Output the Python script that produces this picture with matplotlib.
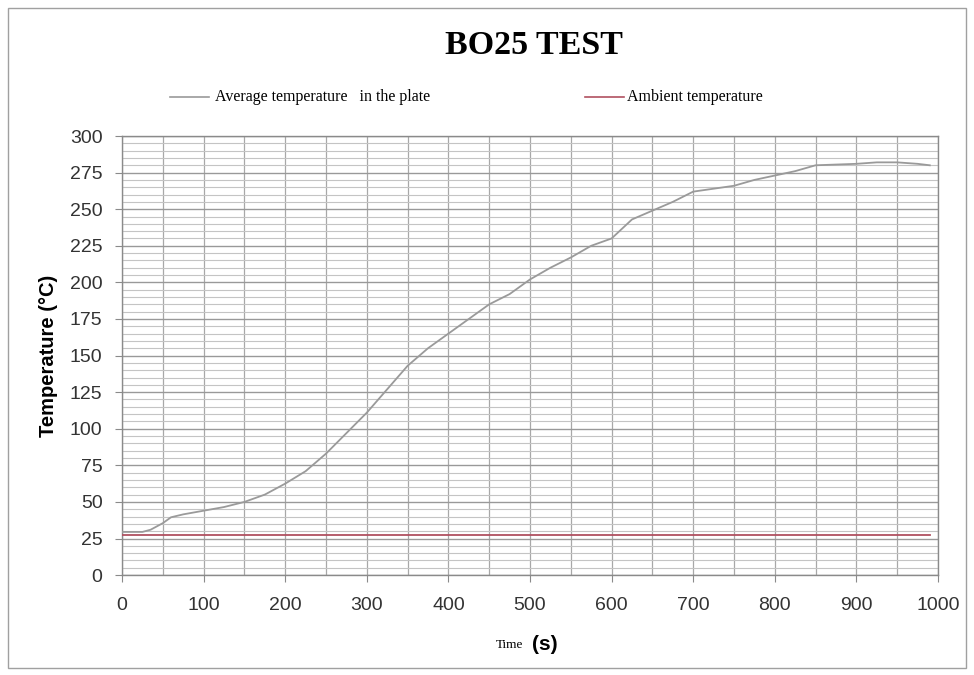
import matplotlib
matplotlib.use("Agg")
import matplotlib.pyplot as plt
from matplotlib.lines import Line2D
from matplotlib.ticker import MultipleLocator

time_s = [0, 15, 25, 35, 50, 60, 75, 100, 125, 150, 175, 200, 225, 250, 275, 300,
          325, 350, 375, 400, 425, 450, 475, 500, 525, 550, 575, 600, 625, 650,
          675, 700, 725, 750, 775, 800, 825, 850, 875, 900, 925, 950, 975, 990]
avg_temp = [29.5, 29.5, 29.5, 31, 35.5, 39.5, 41.5, 44, 46.5, 50, 55, 62.5, 71, 83, 97, 111,
            127, 143, 155, 165, 175, 185, 192, 202, 210, 217, 225, 230, 243, 249,
            255, 262, 264, 266, 270, 273, 276, 280, 280.5, 281, 282, 282, 281, 280]
amb_time = [0, 990]
amb_temp = [27.3, 27.3]

avg_color = "#9a9a9a"
amb_color = "#b05060"

fig = plt.figure(figsize=(9.74, 6.75), dpi=100)
ax = fig.add_axes([0.1253, 0.148, 0.963 - 0.1253, 0.7985 - 0.148])

ax.plot(time_s, avg_temp, color=avg_color, lw=1.3, zorder=3)
ax.plot(amb_time, amb_temp, color=amb_color, lw=1.3, zorder=3)

ax.set_xlim(0, 1000)
ax.set_ylim(0, 300)
ax.xaxis.set_major_locator(MultipleLocator(100))
ax.xaxis.set_minor_locator(MultipleLocator(50))
ax.yaxis.set_major_locator(MultipleLocator(25))
ax.yaxis.set_minor_locator(MultipleLocator(5))

ax.grid(which="major", axis="y", color="#999999", lw=1.0)
ax.grid(which="minor", axis="y", color="#c4c4c4", lw=0.8)
ax.grid(which="both", axis="x", color="#a8a8a8", lw=0.9)
ax.set_axisbelow(True)

for s in ax.spines.values():
    s.set_color("#8a8a8a")
    s.set_linewidth(1.0)

ax.tick_params(axis="both", which="major", direction="out", length=5, color="#8a8a8a",
               labelsize=14, labelcolor="#333333")
ax.tick_params(axis="y", which="major", pad=9)
ax.tick_params(axis="x", which="major", pad=11)
ax.tick_params(axis="both", which="minor", length=0)
for lab in ax.get_xticklabels() + ax.get_yticklabels():
    lab.set_fontfamily("Liberation Sans")

ax.set_ylabel("Temperature (°C)", fontfamily="Liberation Sans", fontweight="bold",
              fontsize=14.5)
ax.yaxis.set_label_coords(-0.078, 0.5)

fig.text(0.537, 0.045, "Time", fontfamily="Liberation Serif", fontsize=9.5,
         ha="right", va="center")
fig.text(0.546, 0.045, "(s)", fontfamily="Liberation Sans", fontweight="bold",
         fontsize=15, ha="left", va="center")

fig.text(0.548, 0.933, "BO25 TEST", fontfamily="Liberation Serif", fontweight="bold",
         fontsize=24.5, ha="center", va="center")

# legend
fig.add_artist(Line2D([0.175, 0.215], [0.856, 0.856], color=avg_color, lw=1.2,
                      transform=fig.transFigure))
fig.text(0.221, 0.856, "Average temperature   in the plate", fontfamily="Liberation Serif",
         fontsize=11.5, ha="left", va="center")
fig.add_artist(Line2D([0.601, 0.641], [0.856, 0.856], color=amb_color, lw=1.2,
                      transform=fig.transFigure))
fig.text(0.644, 0.856, "Ambient temperature", fontfamily="Liberation Serif",
         fontsize=11.5, ha="left", va="center")

# outer border
fig.add_artist(plt.Rectangle((0.008, 0.01), 0.984, 0.978, fill=False,
                             edgecolor="#a0a0a0", lw=1.0, transform=fig.transFigure))

fig.savefig("out.png", dpi=100)
